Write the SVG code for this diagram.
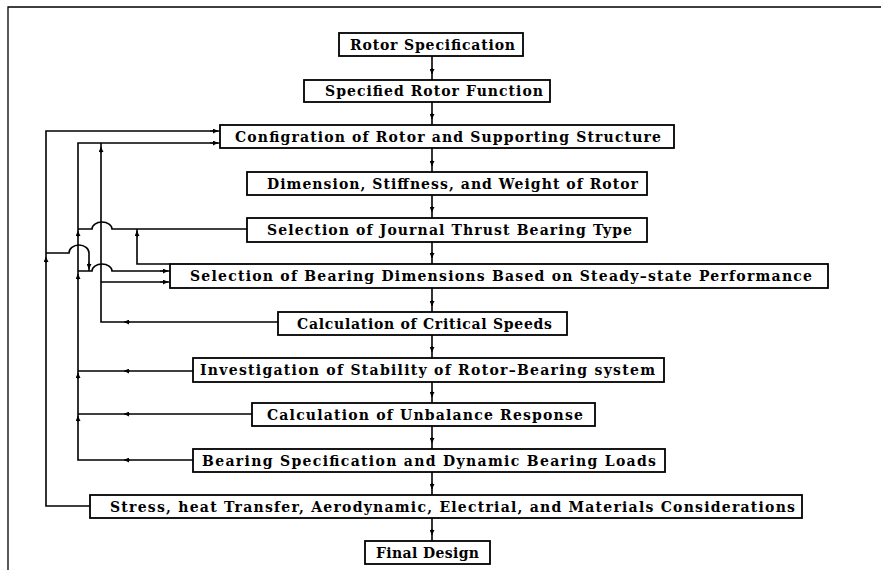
<svg xmlns="http://www.w3.org/2000/svg" width="881" height="570" viewBox="0 0 881 570">
<defs>
<marker id="a" markerUnits="userSpaceOnUse" markerWidth="6" markerHeight="5" refX="5" refY="2.5" orient="auto">
<path d="M0,0 L5,2.5 L0,5 z" fill="#000"/>
</marker>
<style>
rect{fill:#fff;stroke:#000;stroke-width:1.8}
text{font-family:"DejaVu Serif","Liberation Serif",serif;font-weight:bold;font-size:14px;fill:#000}
.c path{fill:none;stroke:#000;stroke-width:1.6}
.c path.t{stroke-width:1}
.frame{fill:none;stroke:#000;stroke-width:1.3}
</style>
</defs>
<rect width="881" height="570" style="fill:#fff;stroke:none"/>
<path class="frame" d="M8,570 L8,7 L881,7"/>
<g class="c" id="connectors">
<!-- trunk -->
<path d="M432,56 L432,80"/><path class="t" d="M432,68 L432,74" marker-end="url(#a)"/>
<path d="M432,102 L432,125"/><path class="t" d="M432,113 L432,119" marker-end="url(#a)"/>
<path d="M432,148 L432,172"/><path class="t" d="M432,160 L432,166" marker-end="url(#a)"/>
<path d="M432,195 L432,218"/><path class="t" d="M432,206 L432,212" marker-end="url(#a)"/>
<path d="M432,242 L432,264"/><path class="t" d="M432,252 L432,258" marker-end="url(#a)"/>
<path d="M432,288 L432,312"/><path class="t" d="M432,300 L432,306" marker-end="url(#a)"/>
<path d="M432,335 L432,358"/><path class="t" d="M432,346 L432,352" marker-end="url(#a)"/>
<path d="M432,382 L432,403"/><path class="t" d="M432,391 L432,397" marker-end="url(#a)"/>
<path d="M432,426 L432,449"/><path class="t" d="M432,437 L432,443" marker-end="url(#a)"/>
<path d="M432,472 L432,495"/><path class="t" d="M432,483 L432,489" marker-end="url(#a)"/>
<path d="M432,518 L432,541"/><path class="t" d="M432,529 L432,535" marker-end="url(#a)"/>
<!-- outer loop from Stress to Config -->
<path d="M90,506 L46,506 L46,131 L220,131"/>
<path class="t" d="M210,131 L218,131" marker-end="url(#a)"/>
<path class="t" d="M46,263 L46,257" marker-end="url(#a)"/>
<!-- branch from outer loop to Steady-state box -->
<path d="M46,253 L69,253 A10,8 0 0 1 89,253 L89,271"/>
<path class="t" d="M89,262 L89,269" marker-end="url(#a)"/>
<!-- x=78 collector to Config -->
<path d="M193,460 L78,460 L78,143 L220,143"/>
<path class="t" d="M210,143 L218,143" marker-end="url(#a)"/>
<path d="M193,371 L78,371"/>
<path d="M252,414 L78,414"/>
<path class="t" d="M130,460 L124,460" marker-end="url(#a)"/>
<path class="t" d="M130,414 L124,414" marker-end="url(#a)"/>
<path class="t" d="M130,371 L124,371" marker-end="url(#a)"/>
<path class="t" d="M78,379 L78,373" marker-end="url(#a)"/>
<path class="t" d="M78,422 L78,416" marker-end="url(#a)"/>
<path class="t" d="M78,280 L78,274" marker-end="url(#a)"/>
<path class="t" d="M78,237 L78,231" marker-end="url(#a)"/>
<!-- Type box feedback -->
<path d="M247,229 L112,229 A10,7 0 0 0 92,229 L78,229"/>
<!-- to Steady-state box -->
<path d="M78,271 L92,271 A10,7 0 0 1 112,271 L170,271"/>
<path class="t" d="M160,271 L168,271" marker-end="url(#a)"/>
<!-- x=101 line from Critical Speeds -->
<path d="M278,322 L101,322 L101,143"/>
<path class="t" d="M130,322 L124,322" marker-end="url(#a)"/>
<path class="t" d="M101,153 L101,147" marker-end="url(#a)"/>
<path d="M101,282 L170,282"/>
<path class="t" d="M160,282 L168,282" marker-end="url(#a)"/>
<!-- Steady-state back to Type line -->
<path d="M170,264 L137,264 L137,229"/>
<path class="t" d="M137,237 L137,231" marker-end="url(#a)"/>
</g>
<g id="n1"><rect x="339" y="33" width="184" height="23"/><text x="350" y="49.5" textLength="165" lengthAdjust="spacing">Rotor Specification</text></g>
<g id="n2"><rect x="304" y="80" width="246" height="22"/><text x="325" y="96" textLength="218" lengthAdjust="spacing">Specified Rotor Function</text></g>
<g id="n3"><rect x="220" y="125" width="454" height="23"/><text x="235" y="141.5" textLength="426" lengthAdjust="spacing">Configration of Rotor and Supporting Structure</text></g>
<g id="n4"><rect x="247" y="172" width="400" height="23"/><text x="267" y="188.5" textLength="371" lengthAdjust="spacing">Dimension, Stiffness, and Weight of Rotor</text></g>
<g id="n5"><rect x="247" y="218" width="400" height="24"/><text x="267" y="235" textLength="365" lengthAdjust="spacing">Selection of Journal Thrust Bearing Type</text></g>
<g id="n6"><rect x="170" y="264" width="658" height="24"/><text x="190" y="281" textLength="622" lengthAdjust="spacing">Selection of Bearing Dimensions Based on Steady–state Performance</text></g>
<g id="n7"><rect x="278" y="312" width="289" height="23"/><text x="297" y="328.5" textLength="255" lengthAdjust="spacing">Calculation of Critical Speeds</text></g>
<g id="n8"><rect x="193" y="358" width="471" height="24"/><text x="200" y="375" textLength="455" lengthAdjust="spacing">Investigation of Stability of Rotor–Bearing system</text></g>
<g id="n9"><rect x="252" y="403" width="343" height="23"/><text x="267" y="419.5" textLength="316" lengthAdjust="spacing">Calculation of Unbalance Response</text></g>
<g id="n10"><rect x="193" y="449" width="472" height="23"/><text x="202" y="465.5" textLength="454" lengthAdjust="spacing">Bearing Specification and Dynamic Bearing Loads</text></g>
<g id="n11"><rect x="90" y="495" width="712" height="23"/><text x="110" y="511.5" textLength="685" lengthAdjust="spacing">Stress, heat Transfer, Aerodynamic, Electrial, and Materials Considerations</text></g>
<g id="n12"><rect x="365" y="541" width="125" height="23"/><text x="376" y="557.5" textLength="103" lengthAdjust="spacing">Final Design</text></g>
</svg>
